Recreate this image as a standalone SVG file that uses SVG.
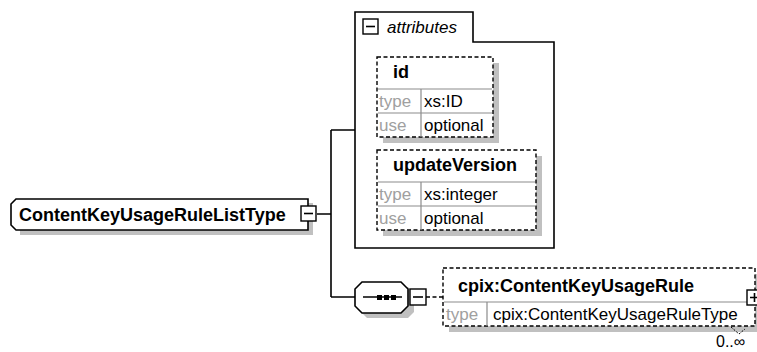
<svg xmlns="http://www.w3.org/2000/svg" width="757" height="352" viewBox="0 0 757 352">
<style>
.shadow{fill:#c0c0c0;stroke:none}
.solid{fill:#fff;stroke:#000;stroke-width:1.6}
.dash{fill:#fff;stroke:#000;stroke-width:1.4;stroke-dasharray:4,2.5}
.grid{stroke:#8c8c8c;stroke-width:1.2;fill:none}
.line{stroke:#000;stroke-width:1.6;fill:none}
.name{font-family:"Liberation Sans",Arial,sans-serif;font-weight:bold;font-size:18px;fill:#000}
.lbl{font-family:"Liberation Sans",Arial,sans-serif;font-size:17px;fill:#a0a0a0}
.val{font-family:"Liberation Sans",Arial,sans-serif;font-size:17px;fill:#000}
.btn{fill:#fff;stroke:#000;stroke-width:1.4}
</style>
<g id="connectors">
<path class="line" d="M317,214 H331 M331,130 V297 M331,130 H355 M331,297 H355"/>
<path d="M426,297 H443" stroke="#000" stroke-width="1.4" stroke-dasharray="4,2.5" fill="none"/>
</g>
<g id="main">
<path class="shadow" d="M20,203 H313 V235 H20 Z"/>
<path class="solid" d="M16,199 H308 V230 H16 L11,225 V204 Z"/>
<text class="name" x="19" y="221">ContentKeyUsageRuleListType</text>
<rect class="btn" x="301" y="206" width="15" height="15"/>
<path class="line" d="M304,213.5 H313"/>
</g>
<g id="attributes">
<path class="solid" d="M355,248 V12 H473 V42 H554 V248 Z"/>
<rect class="btn" x="363" y="19" width="15" height="15"/>
<path class="line" d="M366,26.5 H375"/>
<text x="387" y="33" font-family="Liberation Sans,Arial,sans-serif" font-style="italic" font-size="17px" fill="#000">attributes</text>
</g>
<g id="attr-id">
<rect class="shadow" x="383" y="63" width="116" height="80"/>
<rect class="dash" x="377" y="57" width="116" height="80"/>
<path class="grid" d="M378,89 H492 M378,113 H492 M421,89 V137"/>
<text class="name" x="393" y="78">id</text>
<text class="lbl" x="379" y="107">type</text>
<text class="val" x="424" y="107">xs:ID</text>
<text class="lbl" x="379" y="131">use</text>
<text class="val" x="424" y="131">optional</text>
</g>
<g id="attr-updateVersion">
<rect class="shadow" x="383" y="156" width="159" height="80"/>
<rect class="dash" x="377" y="150" width="159" height="80"/>
<path class="grid" d="M378,182 H535 M378,206 H535 M421,182 V230"/>
<text class="name" x="393" y="171">updateVersion</text>
<text class="lbl" x="379" y="200">type</text>
<text class="val" x="424" y="200">xs:integer</text>
<text class="lbl" x="379" y="224">use</text>
<text class="val" x="424" y="224">optional</text>
</g>
<g id="sequence">
<path class="shadow" d="M367,287 H408 L414,293 V312 L408,318 H367 L361,312 V293 Z"/>
<path class="solid" d="M362,282 H401 L408,289 V306 L401,313 H362 L355,306 V289 Z"/>
<path class="line" d="M363,297 H402"/>
<rect x="377" y="295" width="5" height="5" fill="#000"/>
<rect x="384" y="295" width="5" height="5" fill="#000"/>
<rect x="391" y="295" width="5" height="5" fill="#000"/>
<rect class="btn" x="410" y="289" width="16" height="16"/>
<path class="line" d="M413,297 H423"/>
</g>
<g id="element-ContentKeyUsageRule">
<rect class="shadow" x="449" y="274" width="312" height="58"/>
<rect class="dash" x="443" y="268" width="312" height="58"/>
<path class="grid" d="M444,302 H754 M487,302 V326"/>
<text class="name" x="458" y="292">cpix:ContentKeyUsageRule</text>
<text class="lbl" x="446" y="320">type</text>
<text class="val" x="493" y="320">cpix:ContentKeyUsageRuleType</text>
<rect class="btn" x="747" y="290" width="15" height="15"/>
<path class="line" d="M750,297.5 H760 M754.5,293 V302"/>
<path d="M731,327 L739,334 L745,329" fill="none" stroke="#000" stroke-width="1" stroke-dasharray="2,1.5"/>
<text class="val" x="716" y="347" style="font-size:16px">0..∞</text>
</g>
</svg>
